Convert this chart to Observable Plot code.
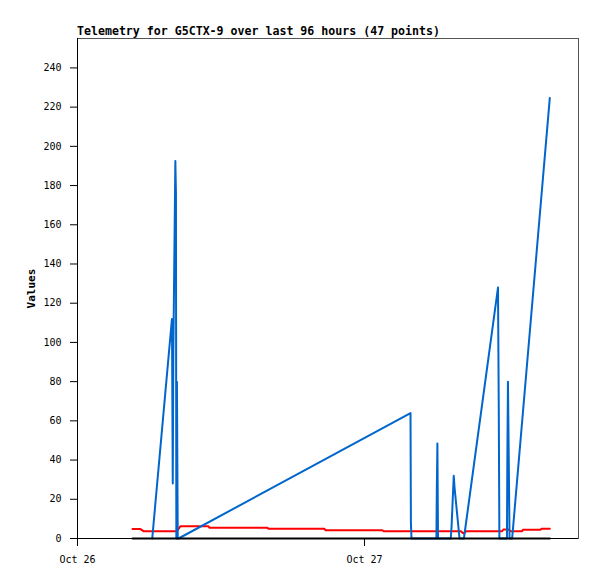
<!DOCTYPE html>
<html><head><meta charset="utf-8">
<script src="https://cdn.jsdelivr.net/npm/d3@7"></script>
<script src="https://cdn.jsdelivr.net/npm/@observablehq/plot@0.6"></script>
<style>
body{margin:0;background:#fff;}
#wrap{position:relative;width:597px;height:579px;}
#title{position:absolute;left:77px;top:25px;font:bold 11.6px "DejaVu Sans Mono",monospace;line-height:12px;color:#000;white-space:pre;}
#wrap svg{position:absolute;left:0;top:0;}
g[aria-label="y-axis label"] text{font-weight:bold;font-size:11px;}
</style></head><body>
<div id="wrap"><div id="title">Telemetry for G5CTX-9 over last 96 hours (47 points)</div></div>
<script>
const titleText = "Telemetry for G5CTX-9 over last 96 hours (47 points)";
const yLabel = "Values";

// blue series
const blueTimes = ["2019-10-26T06:15","2019-10-26T07:54","2019-10-26T07:58","2019-10-26T08:01","2019-10-26T08:11","2019-10-26T08:14","2019-10-26T08:16","2019-10-26T08:19","2019-10-26T08:23","2019-10-26T08:27","2019-10-27T03:51","2019-10-27T03:53","2019-10-27T03:56","2019-10-27T06:01","2019-10-27T06:03","2019-10-27T06:06","2019-10-27T06:09","2019-10-27T07:13","2019-10-27T07:17","2019-10-27T07:28","2019-10-27T07:32","2019-10-27T07:57","2019-10-27T08:19","2019-10-27T11:10","2019-10-27T11:14","2019-10-27T11:17","2019-10-27T11:55","2019-10-27T11:57","2019-10-27T12:00","2019-10-27T12:04","2019-10-27T12:08","2019-10-27T12:21","2019-10-27T15:30"];
const blueValues = [0,112,28,96,192.5,176,0,80,0,0,64,8,0,0,24.5,48.5,0,0,6,32,26,0,0,128,64,0,0,41,80,41,0,0,224.7];

// red series
const redTimes = ["2019-10-26T04:36","2019-10-26T05:16","2019-10-26T05:31","2019-10-26T08:19","2019-10-26T08:37","2019-10-26T10:57","2019-10-26T11:02","2019-10-26T15:53","2019-10-26T15:58","2019-10-26T20:39","2019-10-26T20:44","2019-10-27T01:30","2019-10-27T01:35","2019-10-27T08:02","2019-10-27T08:17","2019-10-27T08:32","2019-10-27T11:31","2019-10-27T11:37","2019-10-27T12:03","2019-10-27T12:13","2019-10-27T13:11","2019-10-27T13:15","2019-10-27T14:43","2019-10-27T14:48","2019-10-27T15:30"];
const redValues = [4.8,4.8,3.75,3.75,6.3,6.3,5.45,5.45,4.95,4.95,4.25,4.25,3.75,3.75,2.6,3.75,3.75,4.6,4.6,3.75,3.75,4.45,4.45,4.95,4.95];

// black series
const blackTimes = ["2019-10-26T04:36","2019-10-27T15:30"];
const blackValues = [0,0];

const xDomain = ["2019-10-26T00:00","2019-10-27T17:54"];
const xTicks = ["2019-10-26T00:00","2019-10-27T00:00"];
const yTicks = [0,20,40,60,80,100,120,140,160,180,200,220,240];
const yDomain = [0,255];

const toDate = s => new Date(s + ":00Z");
const mk = (ts, vs) => ts.map((t,i)=>({t: toDate(t), v: vs[i]}));
const blue = mk(blueTimes, blueValues);
const red = mk(redTimes, redValues);
const black = mk(blackTimes, blackValues);

document.getElementById("title").textContent = titleText;

const chart = Plot.plot({
  width: 597, height: 579,
  marginLeft: 77, marginRight: 19, marginTop: 38, marginBottom: 41,
  style: {fontFamily: '"DejaVu Sans Mono", monospace', fontSize: "10px", background: "transparent", color: "#000"},
  x: {type: "utc", domain: xDomain.map(toDate)},
  y: {domain: yDomain},
  marks: [
    Plot.frame({stroke: "#555"}),
    Plot.line(red, {x: "t", y: "v", stroke: "#ff0000", strokeWidth: 2}),
    Plot.line(blue, {x: "t", y: "v", stroke: "#0066cc", strokeWidth: 2}),
    Plot.line(black, {x: "t", y: "v", stroke: "#000", strokeWidth: 2}),
    Plot.axisY({ticks: yTicks, tickSize: 7, tickPadding: 9, label: yLabel, labelAnchor: "center", labelArrow: "none", labelOffset: 50}),
    Plot.axisX({ticks: xTicks.map(toDate), tickFormat: d3.utcFormat("%b %d"), tickSize: 8, tickPadding: 9, label: null}),
    Plot.ruleX([toDate(xDomain[0])], {stroke: "#000"}),
    Plot.ruleY([0], {stroke: "#000"})
  ]
});
document.getElementById("wrap").appendChild(chart);
</script>
</body></html>
